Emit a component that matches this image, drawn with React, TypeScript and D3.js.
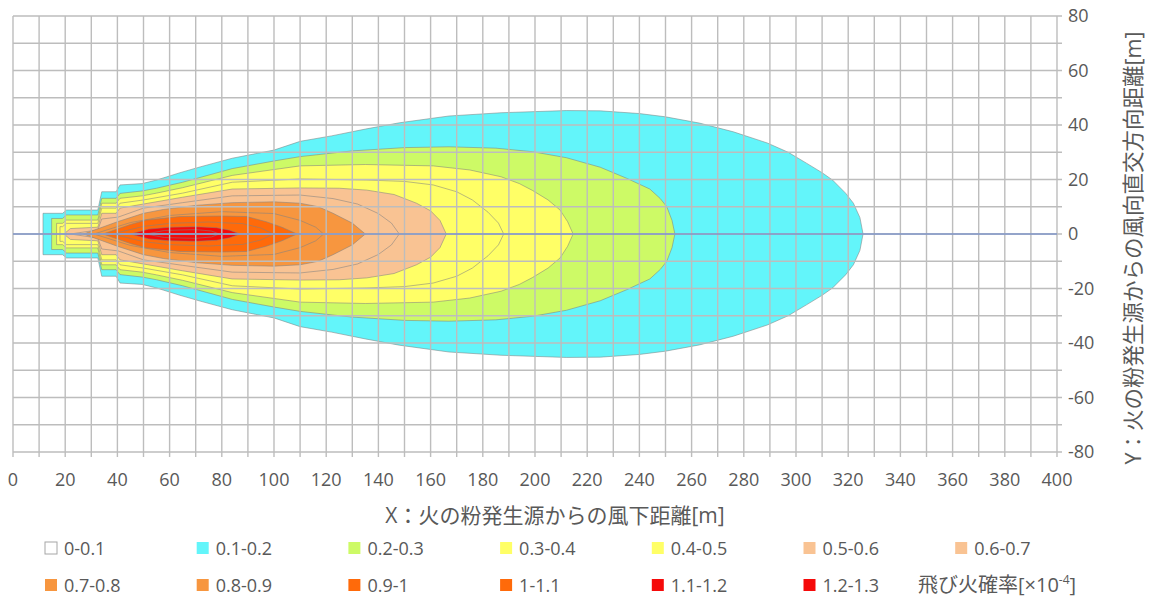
import React from "react";
import * as d3 from "d3";

// ---- data: half-width profiles [X (m), half-width (m)] of each probability level ----
const levels = [0.1, 0.2, 0.3, 0.4, 0.5, 0.6, 0.7, 0.8, 0.9, 1.0, 1.1, 1.2];

const p01: [number, number][] = [[11.5,7.6],[19,7.6],[20.5,8.8],[32.5,8.8],[34,15.5],[39.5,15.5],[41,18],[49.5,18.5],[55,19.8],[64,22.5],[72,24.7],[84,27.8],[100,30.8],[110,34],[122,36],[135,38.5],[148,40.8],[167,43.3],[187,44.5],[212,45.3],[225,45.2],[240,44.2],[250,43],[263,40.7],[276,37.5],[289,33.4],[297,30],[304,26],[310,22.5],[314,19.8],[319,15],[322,11.3],[324.5,6],[325.7,0]];
const p02: [number, number][] = [[14.8,5.7],[19,5.7],[20.5,7],[32.5,7],[34,13.1],[39.5,13.1],[41,14.9],[49.5,15.8],[55,16.8],[65,19],[84,24],[100,26.8],[110,28.4],[130,30.5],[150,31.7],[167,32],[185,31.5],[199,30.2],[212,28],[225,24.5],[235,20.5],[244,16.5],[248,13],[250.5,10],[252.5,5],[253.6,0]];
const p03: [number, number][] = [[16.7,3.9],[19,3.9],[20.5,5.1],[32.5,5.1],[34,11.3],[39.5,11.3],[41,13.1],[49.5,14],[55,15],[65,17],[84,21.5],[110,25],[135,25.5],[161,25],[175,23.5],[187,21],[194,18.5],[199,16],[205,12.5],[209.6,8.8],[212.5,4.5],[214.6,0]];
const p04: [number, number][] = [[18,2.7],[19,2.7],[20.5,3.9],[32.5,3.9],[34,9.5],[39.5,9.5],[41,11.3],[50,12.5],[65,15],[84,19],[110,20.2],[135.6,19.8],[150,19.3],[161,18],[170,15.5],[176,12.5],[182,8],[186,4],[188,0]];
const p05: [number, number][] = [[19.5,0],[22,2],[32.5,2.5],[34,7.6],[39.5,7.6],[41,9.5],[50,11],[65,13.5],[84,16.5],[110,16.9],[125,16.8],[135.6,16.1],[146,14.5],[154.6,11.3],[160,8.5],[163.6,5],[166,0]];
const p06: [number, number][] = [[22,0],[32.5,1.5],[34,5.5],[40.3,6.2],[50,9.5],[65,11.5],[84,14],[110,14.3],[122.6,13],[132,11],[140,7.5],[145,4],[148,0]];
const p07: [number, number][] = [[27,0],[40,4.5],[50,7.6],[57.6,9],[70,10.5],[84,11.5],[100,11.8],[110,11.3],[117,10],[122.6,7.6],[130,4],[135,0]];
const p08: [number, number][] = [[31,0],[45,4.2],[60,6.8],[80,8.2],[100,7.5],[110,5],[116,2.5],[119,0]];
const p09: [number, number][] = [[34.5,0],[45,3.5],[51,5.1],[64,6.4],[80,6.6],[89.6,6.4],[97,4.5],[103,2.5],[108.8,0]];
const p10: [number, number][] = [[38,0],[50,2.8],[60,3.9],[75,4.4],[88,3.8],[95,2.2],[99.7,0]];
const p11: [number, number][] = [[45,0],[52,1.8],[60,2.5],[70,2.7],[78,2.3],[83,1.4],[87,0]];
const p12: [number, number][] = [[51,0],[58,1.3],[70,1.6],[76,1.1],[79,0]];
const profiles = [p01, p02, p03, p04, p05, p06, p07, p08, p09, p10, p11, p12];

const legendLabels = ["0-0.1","0.1-0.2","0.2-0.3","0.3-0.4","0.4-0.5","0.5-0.6","0.6-0.7","0.7-0.8","0.8-0.9","0.9-1","1-1.1","1.1-1.2","1.2-1.3"];
const legendColors = ["#FFFFFF","#63F5FA","#CDFA66","#FFFF66","#FFFF66","#F9C393","#F9C393","#F7963F","#F7963F","#FF6A0A","#FF6A0A","#F50A0A","#F50A0A"];

const xTicks = d3.range(0, 401, 20);
const yTicks = d3.range(-80, 81, 20);
const xGrid = d3.range(0, 401, 10);
const yGrid = d3.range(-80, 81, 10);

const xTitle = "X：火の粉発生源からの風下距離[m]";
const yTitle = "Y：火の粉発生源からの風向直交方向距離[m]";

export default function App() {
  const W = 1149, H = 599;
  const x = d3.scaleLinear().domain([0, 400]).range([13, 1057]);
  const y = d3.scaleLinear().domain([-80, 80]).range([452, 16]);
  const area = d3.area<[number, number]>()
    .x(d => x(d[0]))
    .y0(d => y(-d[1]))
    .y1(d => y(d[1]))
    .curve(d3.curveLinear);
  const font = "'Open Sans', 'Noto Sans CJK JP', sans-serif";
  const txt = "#595959";
  const gridC = "#BDBDBD";
  return (
    <svg width={W} height={H} style={{ position: "absolute", left: 0, top: 0, background: "#fff" }} fontFamily={font}>
      <rect x={0} y={0} width={W} height={H} fill="#fff" />
      {profiles.map((p, i) => (
        <path key={"a" + i} d={area(p) || ""} fill={legendColors[i + 1]} stroke="rgba(130,130,130,0.55)" strokeWidth={1} />
      ))}
      {xGrid.map(v => (
        <line key={"gx" + v} x1={x(v)} x2={x(v)} y1={y(80)} y2={y(-80) + 5} stroke={gridC} strokeWidth={1.4} />
      ))}
      {yGrid.map(v => (
        <line key={"gy" + v} x1={x(0)} x2={x(400) + 5} y1={y(v)} y2={y(v)} stroke={gridC} strokeWidth={1.4} />
      ))}
      <line x1={x(0)} x2={x(400)} y1={y(0)} y2={y(0)} stroke="#8096C8" strokeWidth={1.5} />
      {xTicks.map(v => (
        <text key={"tx" + v} x={x(v)} y={486} textAnchor="middle" fontSize={18} fill={txt}>{v}</text>
      ))}
      {yTicks.map(v => (
        <text key={"ty" + v} x={1068} y={y(v) + 6} textAnchor="start" fontSize={18} fill={txt}>{v}</text>
      ))}
      <text x={x(200) + 20} y={523} textAnchor="middle" fontSize={21} fill={txt}>{xTitle}</text>
      <text transform={`translate(1141,${y(0) + 14}) rotate(-90)`} textAnchor="middle" fontSize={21.5} fill={txt}>{yTitle}</text>
      {legendLabels.map((lab, i) => {
        const row = i < 7 ? 0 : 1;
        const col = i < 7 ? i : i - 7;
        const bx = 45 + col * 151.7;
        const cy = row === 0 ? 548 : 585;
        return (
          <g key={"lg" + i}>
            <rect x={bx} y={cy - 6} width={12} height={12} fill={legendColors[i]} stroke={i === 0 ? "#A6A6A6" : "none"} strokeWidth={1} />
            <text x={bx + 19} y={cy + 6.5} fontSize={18} fill={txt}>{lab}</text>
          </g>
        );
      })}
      <text x={918} y={592} fontSize={20} fill={txt}>
        飛び火確率[×10<tspan dy={-8} fontSize={12}>-4</tspan><tspan dy={8}>]</tspan>
      </text>
    </svg>
  );
}
